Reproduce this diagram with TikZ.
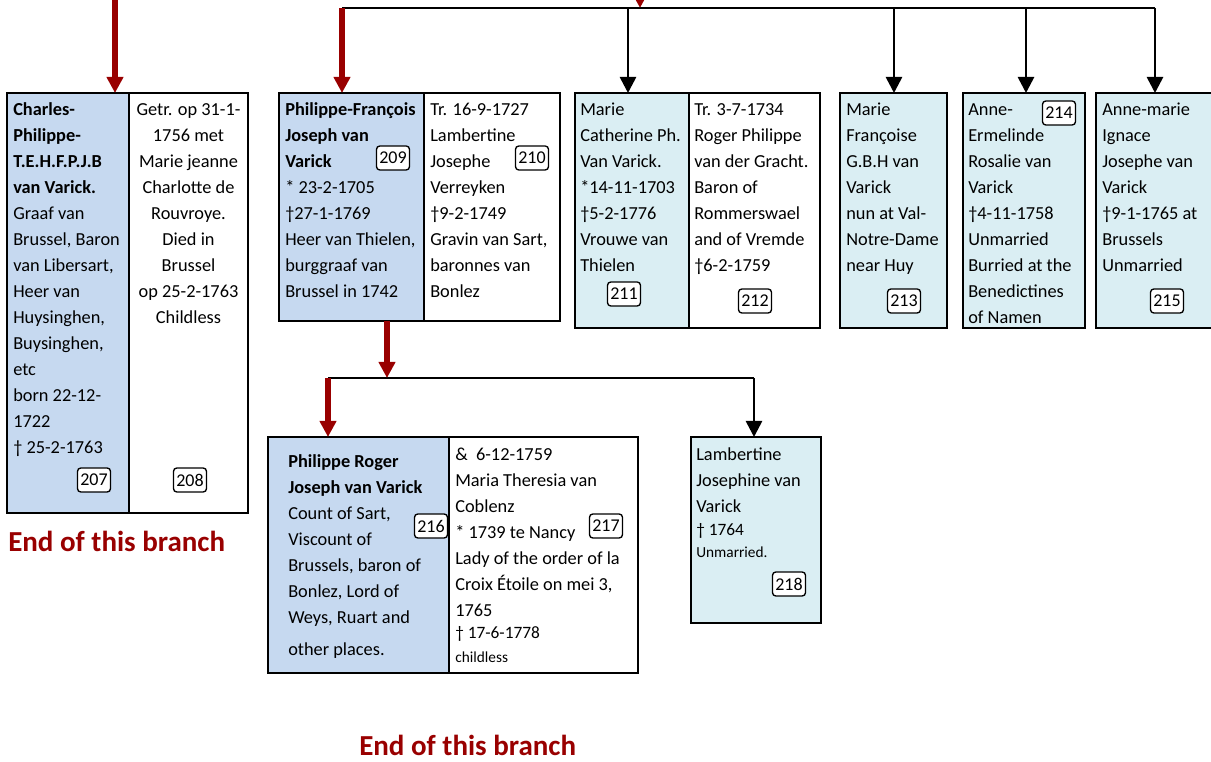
\documentclass[tikz,border=0pt]{standalone}
\usepackage{fontspec}
\setmainfont{Carlito}
\usetikzlibrary{arrows.meta}
\definecolor{famblue}{RGB}{198,217,240}
\definecolor{famcyan}{RGB}{218,238,243}
\definecolor{famred}{RGB}{153,0,0}
\tikzset{
  cell/.style={draw=black, line width=1.5pt, anchor=north west, inner sep=0pt, outer sep=0pt},
  txt/.style={anchor=north west, inner sep=0pt, align=left, font=\fontsize{13.75}{19.5}\selectfont},
  ctxt/.style={anchor=north, inner sep=0pt, align=center, font=\fontsize{13.75}{19.5}\selectfont},
  smalltxt/.style={anchor=base west, inner sep=0pt, font=\fontsize{11.5}{17}\selectfont},
  datetxt/.style={anchor=base west, inner sep=0pt, font=\fontsize{13}{17}\selectfont},
  tag/.style={draw=black, rounded corners=2.5pt, line width=1pt, fill=white, minimum width=24.75pt, minimum height=18pt, inner sep=0pt, font=\fontsize{13.5}{15}\selectfont},
  redarrow/.style={draw=famred, line width=4pt, -{Triangle[width=12pt,length=12pt]}},
  blackarrow/.style={draw=black, line width=2pt, -{Triangle[width=12pt,length=12pt]}},
  hline/.style={draw=black, line width=1.5pt},
  endnote/.style={text=famred, font=\fontsize{21.75}{26}\selectfont\bfseries, anchor=base west, inner sep=0pt},
}
\begin{document}
\begin{tikzpicture}[x=0.75pt,y=-0.75pt]
\useasboundingbox (0,0) rectangle (1211,762);

% ---------- boxes ----------
\node[cell, fill=famblue, minimum width=91.5pt,  minimum height=315pt] (b207) at (7,93) {};
\node[cell, fill=white,   minimum width=89.25pt, minimum height=315pt] (b208) at (129,93) {};
\node[cell, fill=famblue, minimum width=108.75pt, minimum height=171pt] (b209) at (279,93) {};
\node[cell, fill=white,   minimum width=102pt,    minimum height=171pt] (b210) at (424,93) {};
\node[cell, fill=famcyan, minimum width=85.5pt,  minimum height=176.25pt] (b211) at (575,93) {};
\node[cell, fill=white,   minimum width=98.25pt, minimum height=176.25pt] (b212) at (689,93) {};
\node[cell, fill=famcyan, minimum width=80.25pt, minimum height=176.25pt] (b213) at (840,93) {};
\node[cell, fill=famcyan, minimum width=91.5pt,  minimum height=176.25pt] (b214) at (963,93) {};
\node[cell, fill=famcyan, minimum width=88.5pt,  minimum height=176.25pt] (b215) at (1096,93) {};
\node[cell, fill=famblue, minimum width=135.75pt, minimum height=177pt] (b216) at (268,437) {};
\node[cell, fill=white,   minimum width=141.75pt, minimum height=177pt] (b217) at (449,437) {};
\node[cell, fill=famcyan, minimum width=97.5pt,  minimum height=139.5pt] (b218) at (691,437) {};

% ---------- texts ----------
\node[txt] (x207) at (13,97) {\strut\textbf{Charles-}\\\textbf{Philippe-}\\\textbf{T.E.H.F.P.J.B}\\\textbf{van Varick.}\\Graaf van\\Brussel, Baron\\van Libersart,\\Heer van\\Huysinghen,\\Buysinghen,\\etc\\born 22-12-\\1722\\† 25-2-1763};
\node[ctxt] (x208) at (188.5,97) {\strut Getr. op 31-1-\\1756 met\\Marie jeanne\\Charlotte de\\Rouvroye.\\Died in\\Brussel\\op 25-2-1763\\Childless};
\node[txt] (x209) at (285,97) {\strut\textbf{Philippe-François}\\\textbf{Joseph van}\\\textbf{Varick}\\* 23-2-1705\\†27-1-1769\\Heer van Thielen,\\burggraaf van\\Brussel in 1742};
\node[txt] (x210) at (430,97) {\strut Tr. 16-9-1727\\Lambertine\\Josephe\\Verreyken\\†9-2-1749\\Gravin van Sart,\\baronnes van\\Bonlez};
\node[txt] (x211) at (580,97) {\strut Marie\\Catherine Ph.\\Van Varick.\\*14-11-1703\\†5-2-1776\\Vrouwe van\\Thielen};
\node[txt] (x212) at (694,97) {\strut Tr. 3-7-1734\\Roger Philippe\\van der Gracht.\\Baron of\\Rommerswael\\and of Vremde\\†6-2-1759};
\node[txt] (x213) at (846,97) {\strut Marie\\Françoise\\G.B.H van\\Varick\\nun at Val-\\Notre-Dame\\near Huy};
\node[txt] (x214) at (968,97) {\strut Anne-\\Ermelinde\\Rosalie van\\Varick\\†4-11-1758\\Unmarried\\Burried at the\\Benedictines\\of Namen};
\node[txt] (x215) at (1102,97) {\strut Anne-marie\\Ignace\\Josephe van\\Varick\\†9-1-1765 at\\Brussels\\Unmarried};
\node[txt] (x216) at (288,449) {\strut\textbf{Philippe Roger}\\\textbf{Joseph van Varick}\\Count of Sart,\\Viscount of\\Brussels, baron of\\Bonlez, Lord of\\Weys, Ruart and\\[4.5pt]other places.};
\node[txt] (x217) at (455,442) {\strut\&\ \ 6-12-1759\\Maria Theresia van\\Coblenz\\* 1739 te Nancy\\Lady of the order of la\\Croix Étoile on mei 3,\\1765};
\node[datetxt] (x217a) at (455,639) {† 17-6-1778};
\node[smalltxt] (x217b) at (455,663) {childless};
\node[txt] (x218) at (696,442) {\strut Lambertine\\Josephine van\\Varick};
\node[datetxt] (x218a) at (696,536) {† 1764};
\node[smalltxt] (x218b) at (696,558) {Unmarried.};

% ---------- tags ----------
\node[tag] (t207) at (94,480) {207};
\node[tag] (t208) at (190,480) {208};
\node[tag] (t209) at (393,158) {209};
\node[tag] (t210) at (532,158) {210};
\node[tag] (t211) at (624,294) {211};
\node[tag] (t212) at (755,301) {212};
\node[tag] (t213) at (904,301) {213};
\node[tag] (t214) at (1059,113) {214};
\node[tag] (t215) at (1167,301) {215};
\node[tag] (t216) at (431,526) {216};
\node[tag] (t217) at (606,526) {217};
\node[tag] (t218) at (789,584) {218};

% ---------- connectors ----------
\coordinate (inLeft) at (115,-30);
\coordinate (inTop) at (640,-30);
\coordinate (jTop) at (640,8);
\coordinate (jL) at (342,8);
\coordinate (jR) at (1155,8);
\coordinate (j211) at (628,8);
\coordinate (j213) at (894,8);
\coordinate (j214) at (1026,8);
\coordinate (j2) at (387,378);
\coordinate (j216) at (328,378);
\coordinate (j218) at (754,378);

\draw[hline] (jL) -- (jR);
\draw[redarrow] (inLeft) -- (inLeft |- b207.north);
\draw[redarrow] (inTop) -- (jTop);
\draw[redarrow] (jL) -- (jL |- b209.north);
\draw[blackarrow] (j211) -- (j211 |- b211.north);
\draw[blackarrow] (j213) -- (j213 |- b213.north);
\draw[blackarrow] (j214) -- (j214 |- b214.north);
\draw[blackarrow] (jR) -- (jR |- b215.north);

\draw[hline] (j216) -- (j218);
\draw[redarrow] (j2 |- b209.south) -- (j2);
\draw[redarrow] (j216) -- (j216 |- b216.north);
\draw[blackarrow] (j218) -- (j218 |- b218.north);

% ---------- notes ----------
\node[endnote] (end1) at (8,552) {End of this branch};
\node[endnote] (end2) at (359,755) {End of this branch};
\end{tikzpicture}
\end{document}
